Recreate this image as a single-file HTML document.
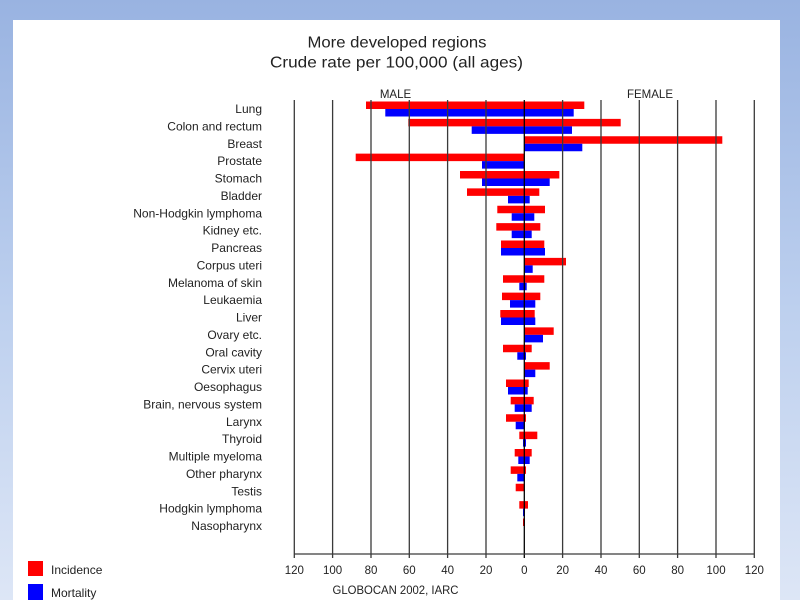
<!DOCTYPE html>
<html>
<head>
<meta charset="utf-8">
<style>
html,body{margin:0;padding:0;width:800px;height:600px;overflow:hidden;}
body{background:linear-gradient(to bottom,#99b3e1 0%,#bccfee 50%,#dde6f6 100%);}
svg{position:absolute;left:0;top:0;}
text{font-family:"Liberation Sans","DejaVu Sans",sans-serif;fill:#222;}
</style>
</head>
<body>
<svg width="800" height="600" viewBox="0 0 800 600" xmlns="http://www.w3.org/2000/svg">
  <rect x="13" y="20" width="767" height="580" fill="#ffffff"/>

  <!-- Title -->
  <text x="397" y="47.5" font-size="16" text-anchor="middle" textLength="179" lengthAdjust="spacingAndGlyphs">More developed regions</text>
  <text x="396.5" y="67.5" font-size="16" text-anchor="middle" textLength="253" lengthAdjust="spacingAndGlyphs">Crude rate per 100,000 (all ages)</text>

  <text x="395.5" y="98" font-size="11.5" text-anchor="middle">MALE</text>
  <text x="650" y="98" font-size="11.5" text-anchor="middle">FEMALE</text>

  <!-- Bars -->
  <g fill="#ff0000">
    <rect x="366" y="101.5" width="218.3" height="7.5"/>
    <rect x="408.3" y="118.875" width="212.4" height="7.5"/>
    <rect x="524.3" y="136.25" width="198" height="7.5"/>
    <rect x="355.7" y="153.625" width="168.6" height="7.5"/>
    <rect x="460" y="171" width="99.3" height="7.5"/>
    <rect x="467" y="188.375" width="72.3" height="7.5"/>
    <rect x="497.3" y="205.75" width="47.7" height="7.5"/>
    <rect x="496.3" y="223.125" width="44" height="7.5"/>
    <rect x="501" y="240.5" width="43.3" height="7.5"/>
    <rect x="524.3" y="257.875" width="41.7" height="7.5"/>
    <rect x="503" y="275.25" width="41.3" height="7.5"/>
    <rect x="502" y="292.625" width="38.3" height="7.5"/>
    <rect x="500.3" y="310" width="34.4" height="7.5"/>
    <rect x="524.3" y="327.375" width="29.4" height="7.5"/>
    <rect x="503" y="344.75" width="28.7" height="7.5"/>
    <rect x="524.3" y="362.125" width="25.4" height="7.5"/>
    <rect x="506" y="379.5" width="22.7" height="7.5"/>
    <rect x="510.7" y="396.875" width="23" height="7.5"/>
    <rect x="506" y="414.25" width="20" height="7.5"/>
    <rect x="519.3" y="431.625" width="18" height="7.5"/>
    <rect x="514.7" y="449" width="17" height="7.5"/>
    <rect x="510.7" y="466.375" width="15.3" height="7.5"/>
    <rect x="515.7" y="483.75" width="9" height="7.5"/>
    <rect x="519.3" y="501.125" width="8.7" height="7.5"/>
    <rect x="523" y="518.5" width="2" height="7.5"/>
  </g>
  <g fill="#0000ff">
    <rect x="385.3" y="109" width="188.4" height="7.5"/>
    <rect x="471.7" y="126.375" width="100.3" height="7.5"/>
    <rect x="524.3" y="143.75" width="58" height="7.5"/>
    <rect x="482" y="161.125" width="42.3" height="7.5"/>
    <rect x="482" y="178.5" width="67.7" height="7.5"/>
    <rect x="508" y="195.875" width="21.7" height="7.5"/>
    <rect x="511.7" y="213.25" width="22.6" height="7.5"/>
    <rect x="511.7" y="230.625" width="20" height="7.5"/>
    <rect x="501" y="248" width="44" height="7.5"/>
    <rect x="524.3" y="265.375" width="8.4" height="7.5"/>
    <rect x="519.3" y="282.75" width="7.4" height="7.5"/>
    <rect x="510" y="300.125" width="25.3" height="7.5"/>
    <rect x="501" y="317.5" width="34.3" height="7.5"/>
    <rect x="524.3" y="334.875" width="18.7" height="7.5"/>
    <rect x="517.3" y="352.25" width="8.7" height="7.5"/>
    <rect x="524.3" y="369.625" width="11" height="7.5"/>
    <rect x="508" y="387" width="19.7" height="7.5"/>
    <rect x="514.7" y="404.375" width="17" height="7.5"/>
    <rect x="515.7" y="421.75" width="9" height="7.5"/>
    <rect x="523" y="439.125" width="3" height="7.5"/>
    <rect x="518.3" y="456.5" width="11.4" height="7.5"/>
    <rect x="517.3" y="473.875" width="7.4" height="7.5"/>
    <rect x="523" y="508.625" width="2" height="7.5"/>
  </g>

  <!-- Gridlines (drawn over bars) -->
  <g stroke="#3a3a3a" stroke-width="1.3">
    <line x1="294.3" y1="100" x2="294.3" y2="558"/>
    <line x1="332.6" y1="100" x2="332.6" y2="558"/>
    <line x1="371" y1="100" x2="371" y2="558"/>
    <line x1="409.3" y1="100" x2="409.3" y2="558"/>
    <line x1="447.6" y1="100" x2="447.6" y2="558"/>
    <line x1="486" y1="100" x2="486" y2="558"/>
    <line x1="524.3" y1="100" x2="524.3" y2="558" stroke="#000"/>
    <line x1="562.6" y1="100" x2="562.6" y2="558"/>
    <line x1="601" y1="100" x2="601" y2="558"/>
    <line x1="639.3" y1="100" x2="639.3" y2="558"/>
    <line x1="677.6" y1="100" x2="677.6" y2="558"/>
    <line x1="716" y1="100" x2="716" y2="558"/>
    <line x1="754.3" y1="100" x2="754.3" y2="558"/>
    <line x1="294.3" y1="554" x2="754.3" y2="554"/>
  </g>

  <!-- Category labels -->
  <g font-size="12" text-anchor="end">
    <text x="262" y="113">Lung</text>
    <text x="262" y="130.4">Colon and rectum</text>
    <text x="262" y="147.8">Breast</text>
    <text x="262" y="165.1">Prostate</text>
    <text x="262" y="182.5">Stomach</text>
    <text x="262" y="199.9">Bladder</text>
    <text x="262" y="217.3">Non-Hodgkin lymphoma</text>
    <text x="262" y="234.6">Kidney etc.</text>
    <text x="262" y="252">Pancreas</text>
    <text x="262" y="269.4">Corpus uteri</text>
    <text x="262" y="286.8">Melanoma of skin</text>
    <text x="262" y="304.1">Leukaemia</text>
    <text x="262" y="321.5">Liver</text>
    <text x="262" y="338.9">Ovary etc.</text>
    <text x="262" y="356.3">Oral cavity</text>
    <text x="262" y="373.6">Cervix uteri</text>
    <text x="262" y="391">Oesophagus</text>
    <text x="262" y="408.4">Brain, nervous system</text>
    <text x="262" y="425.8">Larynx</text>
    <text x="262" y="443.1">Thyroid</text>
    <text x="262" y="460.5">Multiple myeloma</text>
    <text x="262" y="477.9">Other pharynx</text>
    <text x="262" y="495.3">Testis</text>
    <text x="262" y="512.6">Hodgkin lymphoma</text>
    <text x="262" y="530">Nasopharynx</text>
  </g>

  <!-- Tick labels -->
  <g font-size="11.5" text-anchor="middle">
    <text x="294.3" y="574">120</text>
    <text x="332.6" y="574">100</text>
    <text x="371" y="574">80</text>
    <text x="409.3" y="574">60</text>
    <text x="447.6" y="574">40</text>
    <text x="486" y="574">20</text>
    <text x="524.3" y="574">0</text>
    <text x="562.6" y="574">20</text>
    <text x="601" y="574">40</text>
    <text x="639.3" y="574">60</text>
    <text x="677.6" y="574">80</text>
    <text x="716" y="574">100</text>
    <text x="754.3" y="574">120</text>
  </g>

  <text x="395.5" y="594" font-size="11.5" text-anchor="middle" textLength="126" lengthAdjust="spacingAndGlyphs">GLOBOCAN 2002, IARC</text>

  <!-- Legend -->
  <rect x="28" y="561" width="15" height="15" fill="#ff0000"/>
  <rect x="28" y="584" width="15" height="16" fill="#0000ff"/>
  <text x="51" y="574" font-size="12">Incidence</text>
  <text x="51" y="597" font-size="12">Mortality</text>
</svg>
</body>
</html>
